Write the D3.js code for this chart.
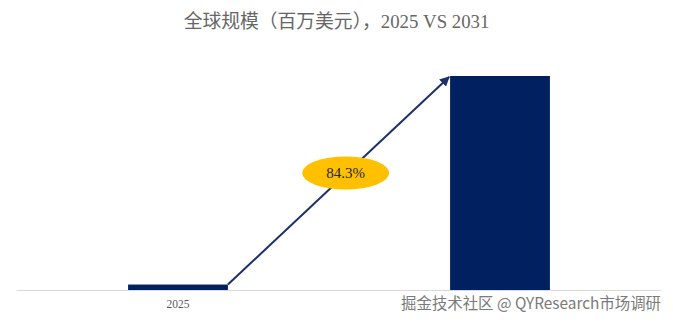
<!DOCTYPE html>
<html>
<head>
<meta charset="utf-8">
<script src="https://cdn.jsdelivr.net/npm/d3@7/dist/d3.min.js"></script>
<style>
  html, body { margin: 0; padding: 0; background: #fff; }
  svg { display: block; }
</style>
</head>
<body>
<div id="chart"></div>
<script>
// values (millions USD)
const years = ['2025', '2031'];
const marketSize = [12.6, 494];
const shownLabels = ['2025']; // the 2031 label sits under the watermark
const cagrLabel = '84.3%';
const chartTitle = '全球规模（百万美元），2025 VS 2031';
const watermark = '掘金技术社区 @ QYResearch市场调研';

const W = 673, H = 322;
const serif = '"Liberation Serif", "Times New Roman", "Noto Sans CJK SC", serif';

const svg = d3.select('#chart').append('svg')
  .attr('width', W)
  .attr('height', H);

const x = d3.scaleBand()
  .domain(years)
  .range([17, 661])
  .paddingInner(0.69)
  .paddingOuter(0.345);

const y = d3.scaleLinear()
  .domain([0, d3.max(marketSize)])
  .range([290, 76]);

// title
svg.append('text')
  .attr('x', 336.5)
  .attr('y', 28)
  .attr('text-anchor', 'middle')
  .attr('font-family', serif)
  .attr('font-size', 18.8)
  .attr('fill', '#666666')
  .text(chartTitle);

// bars
svg.selectAll('rect.bar')
  .data(years)
  .join('rect')
  .attr('class', 'bar')
  .attr('x', (d) => x(d))
  .attr('width', x.bandwidth())
  .attr('y', (d, i) => y(marketSize[i]))
  .attr('height', (d, i) => y(0) - y(marketSize[i]))
  .attr('fill', '#002060');

// baseline
svg.append('line')
  .attr('x1', 17).attr('x2', 661)
  .attr('y1', y(0) + 0.5).attr('y2', y(0) + 0.5)
  .attr('stroke', '#d9d9d9')
  .attr('stroke-width', 1);

// category labels
svg.selectAll('text.tick')
  .data(shownLabels)
  .join('text')
  .attr('class', 'tick')
  .attr('x', (d) => x(d) + x.bandwidth() / 2)
  .attr('y', 307.5)
  .attr('text-anchor', 'middle')
  .attr('font-family', serif)
  .attr('font-size', 11.5)
  .attr('fill', '#595959')
  .text((d) => d);

// growth arrow
svg.append('defs').append('marker')
  .attr('id', 'head')
  .attr('viewBox', '0 0 10 10')
  .attr('refX', 9).attr('refY', 5)
  .attr('markerWidth', 5).attr('markerHeight', 5)
  .attr('orient', 'auto')
  .append('path')
  .attr('d', 'M0,0 L10,5 L0,10 z')
  .attr('fill', '#1c2f6b');

const x0 = x(years[0]) + x.bandwidth(), y0 = y(marketSize[0]);
const x1 = x(years[1]), y1 = y(marketSize[1]);

svg.append('line')
  .attr('x1', x0).attr('y1', y0)
  .attr('x2', x1 - 1).attr('y2', y1 + 1)
  .attr('stroke', '#1c2f6b')
  .attr('stroke-width', 2)
  .attr('marker-end', 'url(#head)');

// CAGR bubble
const t = 0.53;
const cx = x0 + (x1 - x0) * t, cy = y0 + (y1 - y0) * t - 1;
svg.append('ellipse')
  .attr('cx', cx).attr('cy', cy)
  .attr('rx', 43.5).attr('ry', 16.5)
  .attr('fill', '#ffc000');

svg.append('text')
  .attr('x', cx).attr('y', cy + 5)
  .attr('text-anchor', 'middle')
  .attr('font-family', serif)
  .attr('font-size', 15)
  .attr('fill', '#262626')
  .text(cagrLabel);

// watermark
svg.append('text')
  .attr('x', 661)
  .attr('y', 309)
  .attr('text-anchor', 'end')
  .attr('font-family', '"Noto Sans CJK SC", "Noto Sans", sans-serif')
  .attr('font-size', 15.4)
  .attr('fill', '#7a7a7a')
  .text(watermark);
</script>
</body>
</html>
